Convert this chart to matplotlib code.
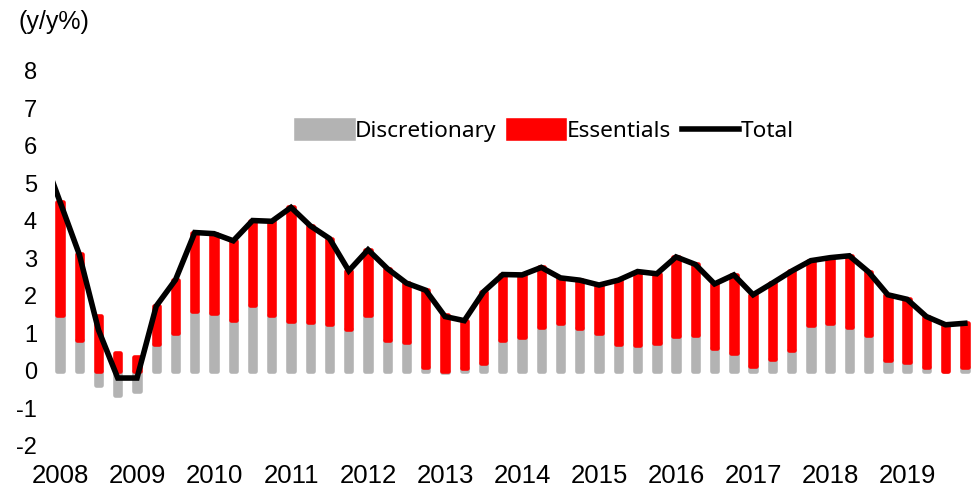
import numpy as np
import matplotlib.pyplot as plt

# quarterly contributions, 2008Q1 - 2019Q4 (y/y %)
years = ['2008', '2009', '2010', '2011', '2012', '2013',
         '2014', '2015', '2016', '2017', '2018', '2019']

discretionary = [1.48, 0.82, -0.38, -0.66, -0.55, 0.70, 1.00, 1.60,
                 1.54, 1.36, 1.76, 1.48, 1.33, 1.29, 1.23, 1.12,
                 1.48, 0.82, 0.76, 0.10, -0.03, 0.08, 0.19, 0.82,
                 0.90, 1.17, 1.28, 1.13, 0.99, 0.72, 0.68, 0.74,
                 0.92, 0.95, 0.61, 0.46, 0.12, 0.32, 0.56, 1.21,
                 1.26, 1.17, 0.96, 0.28, 0.22, 0.10, -0.02, 0.10]

essentials = [3.02, 2.28, 1.46, 0.46, 0.35, 1.02, 1.42, 2.08,
              2.11, 2.10, 2.24, 2.50, 3.02, 2.57, 2.29, 1.54,
              1.74, 1.90, 1.57, 2.04, 1.47, 1.25, 1.91, 1.74,
              1.65, 1.58, 1.19, 1.28, 1.29, 1.69, 1.96, 1.84,
              2.11, 1.88, 1.70, 2.09, 1.90, 2.01, 2.09, 1.72,
              1.75, 1.89, 1.67, 1.74, 1.68, 1.34, 1.24, 1.16]

# total starts one quarter earlier (2007Q4)
total = [5.90,
         4.50, 3.10, 1.08, -0.20, -0.20, 1.72, 2.42, 3.68,
         3.65, 3.46, 4.00, 3.98, 4.35, 3.86, 3.52, 2.66,
         3.22, 2.72, 2.33, 2.14, 1.44, 1.33, 2.10, 2.56,
         2.55, 2.75, 2.47, 2.41, 2.28, 2.41, 2.64, 2.58,
         3.03, 2.83, 2.31, 2.55, 2.02, 2.33, 2.65, 2.93,
         3.01, 3.06, 2.63, 2.02, 1.90, 1.44, 1.22, 1.26]

GRAY = '#b3b3b3'
RED = '#ff0000'

d = np.array(discretionary)
e = np.array(essentials)
x = np.arange(len(d))
x_total = np.arange(-1, len(d))

fig = plt.figure(figsize=(9.71, 4.93), dpi=100)
ax = fig.add_axes([55 / 971, 0.0963, 916 / 971, 0.7606])

# thick round-joined edges give the bars their rounded ends
b1 = ax.bar(x, d, width=0.28, color=GRAY, edgecolor=GRAY, linewidth=3.3,
            joinstyle='round', zorder=2)
b2 = ax.bar(x, e, bottom=np.maximum(d, 0), width=0.28, color=RED,
            edgecolor=RED, linewidth=3.3, joinstyle='round', zorder=3)
l1, = ax.plot(x_total, total, color='black', linewidth=4,
              solid_joinstyle='miter', zorder=4)

ax.set_xlim(-0.26, 47.32)
ax.set_ylim(-2, 8)
ax.set_yticks(range(-2, 9))
ax.set_yticklabels([str(v) for v in range(-2, 9)], fontsize=17,
                   family='Liberation Sans')
ax.set_xticks(x[::4])
ax.set_xticklabels(years, fontsize=18.5, family='Liberation Sans')
ax.tick_params(axis='y', length=0, pad=13)
ax.tick_params(axis='x', length=0, pad=13)
for s in ax.spines.values():
    s.set_visible(False)

fig.text(18 / 971, 1 - 22 / 493, '(y/y%)', fontsize=18,
         family='Liberation Sans', va='center', ha='left')

ax.legend([b1, b2, l1], ['Discretionary', 'Essentials', 'Total'],
          loc='center', bbox_to_anchor=(545 / 971, 1 - 131 / 493),
          bbox_transform=fig.transFigure, ncol=3, frameon=False,
          prop={'family': 'Noto Sans', 'size': 16.3},
          handlelength=2.5, handleheight=0.85, handletextpad=0.1,
          columnspacing=0.5, borderpad=0)

fig.savefig('out.png', dpi=100)
